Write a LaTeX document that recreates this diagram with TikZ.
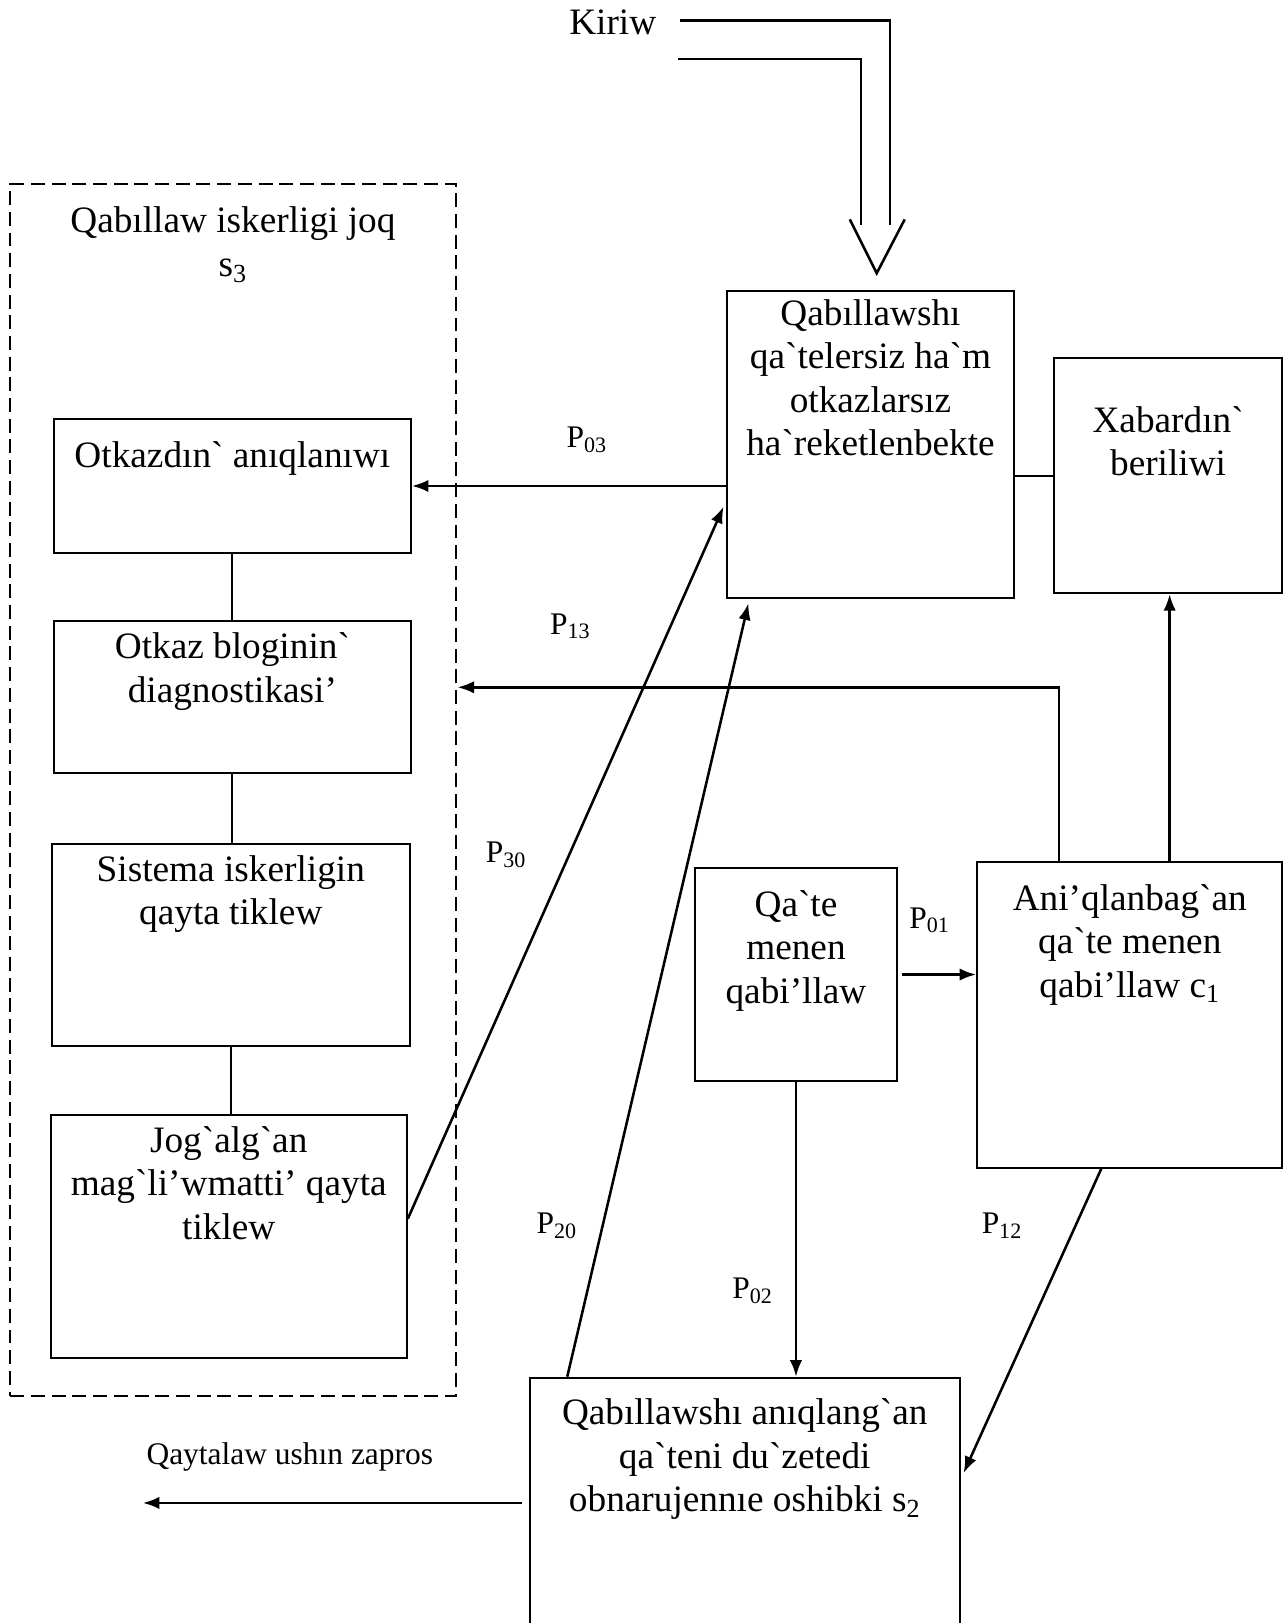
\documentclass[tikz,border=0pt]{standalone}
\usepackage{fontspec}
\setmainfont{Liberation Serif}[Ligatures=TeXOff]
\usetikzlibrary{arrows.meta,fit,calc}
\begin{document}
\begin{tikzpicture}[x=0.02cm,y=-0.02cm,
  box/.style={draw, line width=1.1pt, inner sep=0pt, rectangle},
  txt/.style={align=center, inner sep=0pt, font=\fontsize{20.5}{23.9}\selectfont, anchor=north},
  lbl/.style={inner sep=0pt, font=\fontsize{17.3}{20}\selectfont},
  arr/.style={line width=1.4pt, -{Latex[length=0.32cm,width=0.24cm]}},
  ln/.style={line width=1.4pt},
  thin/.style={line width=1.1pt},
]
\useasboundingbox (0,0) rectangle (1241,1568);
\clip (0,0) rectangle (1241,1568);
\fill[white] (0,0) rectangle (1241,1568);

% input
\node[txt, anchor=center] (kiriw) at (592,22) {Kiriw};
\coordinate (k1s) at (657,20);
\coordinate (k1c) at (860,20);
\coordinate (k1e) at (860,217);
\coordinate (k2s) at (655,57);
\coordinate (k2c) at (832,57);
\coordinate (k2e) at (832,217);
\draw[ln] (k1s) -- (k1c) -- (k1e);
\draw[ln] (k2s) -- (k2c) -- (k2e);
\coordinate (vl) at (821,212);
\coordinate (vt) at (847,264);
\coordinate (vr) at (874,212);
\draw[ln] (vl) -- (vt) -- (vr);

% group s3
\node[box, dash pattern=on 0.27cm off 0.13cm, fit={(10,178) (441,1349)}] (grp) {};
\node[txt, font=\fontsize{20.5}{24.5}\selectfont] (grpt) at (225,199) {Qabıllaw iskerligi joq\\s\textsubscript{3}};

\node[box, fit={(52,405) (397,534)}] (A) {};
\node[txt] (At) at (224.5,426) {Otkazdın` anıqlanıwı};
\node[box, fit={(52,600) (397,747)}] (B) {};
\node[txt] (Bt) at (224.5,611) {Otkaz bloginin`\\diagnostikasi’};
\node[box, fit={(50,815) (396,1011)}] (C) {};
\node[txt] (Ct) at (223,826) {Sistema iskerligin\\qayta tiklew};
\node[box, fit={(49,1077) (393,1312)}] (D) {};
\node[txt] (Dt) at (221,1088) {Jog`alg`an\\mag`li’wmatti’ qayta\\tiklew};

\draw[thin] (A.south) -- (B.north);
\draw[thin] (B.south) -- (B.south |- C.north);
\draw[thin] (C.south) -- (C.south |- D.north);

% right side boxes
\node[box, fit={(702,281) (980,578)}] (Q1) {};
\node[txt] (Q1t) at (841,289) {Qabıllawshı\\qa`telersiz ha`m\\otkazlarsız\\ha`reketlenbekte};
\node[box, fit={(1018,346) (1239,573)}] (X) {};
\node[txt] (Xt) at (1128.5,392) {Xabardın`\\beriliwi};
\node[box, fit={(671,839) (867,1044)}] (Q0) {};
\node[txt] (Q0t) at (769,860) {Qa`te\\menen\\qabi’llaw};
\node[box, fit={(944,833) (1239,1128)}] (C1) {};
\node[txt] (C1t) at (1091.5,854) {Ani’qlanbag`an\\qa`te menen\\qabi’llaw c\textsubscript{1}};
\node[box, fit={(512,1331) (927,1650)}] (S2) {};
\node[txt] (S2t) at (719.5,1351) {Qabıllawshı anıqlang`an\\qa`teni du`zetedi\\obnarujennıe oshibki s\textsubscript{2}};

% connectors
\draw[thin] (Q1.east |- X.west) -- (X.west);
\draw[arr] (Q1.west |- A.east) -- (A.east);
\coordinate (p13) at (1023,664);
\draw[arr] (C1.north -| p13) -- (p13) -- (grp.east |- p13);
\coordinate (cx) at (1130,700);
\draw[arr] (C1.north -| cx) -- (X.south -| cx);
\draw[arr] ($(D.east)+(0,-17)$) -- ($(Q1.west)+(-2,60)$);
\draw[arr] ($(S2.north west)+(37,0)$) -- ($(Q1.south west)+(22,4)$);
\draw[arr] ($(Q0.east)+(3,0)$) -- (C1.west |- Q0.east);
\draw[arr] (Q0.south) -- (Q0.south |- S2.north);
\draw[arr] ($(C1.south west)+(121,0)$) -- ($(S2.north east)+(3,93)$);
\coordinate (qz) at (138,1452);
\draw[arr] ($(S2.west |- qz)+(-7,0)$) -- (qz);

% labels
\node[lbl] (l03) at (567,425) {P\textsubscript{03}};
\node[lbl] (l13) at (551,605) {P\textsubscript{13}};
\node[lbl] (l30) at (489,826) {P\textsubscript{30}};
\node[lbl] (l20) at (538,1184) {P\textsubscript{20}};
\node[lbl] (l01) at (898,889) {P\textsubscript{01}};
\node[lbl] (l02) at (727,1247) {P\textsubscript{02}};
\node[lbl] (l12) at (968,1184) {P\textsubscript{12}};
\node[lbl] (lq) at (280,1408) {Qaytalaw ushın zapros};
\end{tikzpicture}
\end{document}
